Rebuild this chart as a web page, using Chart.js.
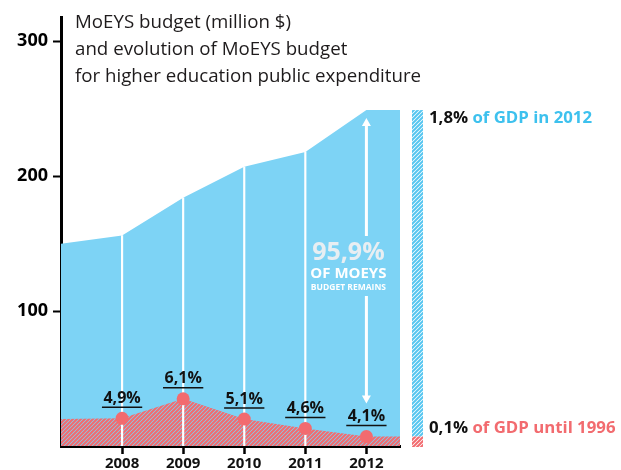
<!DOCTYPE html>
<html>
<head>
<meta charset="utf-8">
<script src="https://cdn.jsdelivr.net/npm/chart.js@4"></script>
<style>
html,body{margin:0;padding:0;background:#fff;}
#wrap{width:621px;height:470px;position:relative;}
</style>
</head>
<body>
<div id="wrap"><canvas id="c" width="621" height="470"></canvas></div>
<script>
// ---- data ----
const years = [2008, 2009, 2010, 2011, 2012];
const xStart = 2007;
const xEnd = 2012.55;
const budgetStart = 150;
const budget = [156, 184, 207, 218, 249];           // MoEYS budget (million $)
const heStart = 20;
const heBudget = [20.5, 35, 20, 13, 7];              // higher education part (as drawn)
const heEnd = 7;
const hePctLabels = ['4,9%', '6,1%', '5,1%', '4,6%', '4,1%'];
const yTicks = [100, 200, 300];
const titleLines = ['MoEYS budget (million $)', 'and evolution of MoEYS budget', 'for higher education public expenditure'];
const remainLabels = ['95,9%', 'OF MOEYS', 'BUDGET REMAINS'];
const gdpTop = ['1,8%', ' of GDP in 2012'];
const gdpBottom = ['0,1%', ' of GDP until 1996'];

// ---- styles ----
const BLUE = '#7DD3F5';
const BLUE_TXT = '#3DC1EE';
const RED = '#F26B6F';
const DARK = '#1e1b1c';
const FONT = '"Open Sans", "Noto Sans", sans-serif';

function stripes(bg, fg, size, lw) {
  const c = document.createElement('canvas');
  c.width = c.height = size;
  const x = c.getContext('2d');
  x.fillStyle = bg; x.fillRect(0, 0, size, size);
  x.strokeStyle = fg; x.lineWidth = lw;
  x.beginPath();
  x.moveTo(0, size); x.lineTo(size, 0);
  x.moveTo(-size, size); x.lineTo(size, -size);
  x.moveTo(0, 2 * size); x.lineTo(2 * size, 0);
  x.stroke();
  return x.createPattern(c, 'repeat');
}
const redHatch = stripes(BLUE, RED, 4, 2.1);
const blueHatch = stripes('#ffffff', '#55C6F0', 4, 2);
const redHatch2 = stripes('#ffffff', RED, 4, 2);

const budgetPts = [{x: xStart, y: budgetStart}].concat(years.map((y, i) => ({x: y, y: budget[i]}))).concat([{x: xEnd, y: budget[budget.length - 1]}]);
const hePts = [{x: xStart, y: heStart}].concat(years.map((y, i) => ({x: y, y: heBudget[i]}))).concat([{x: xEnd, y: heEnd}]);
const linePts = years.slice(0, 4).map((y, i) => ({x: y, y: budget[i]}));
const dotPts = years.map((y, i) => ({x: y, y: heBudget[i]}));

const overlay = {
  id: 'overlay',
  afterDatasetsDraw(chart) {
    const ctx = chart.ctx;
    const xs = chart.scales.x, ys = chart.scales.y;
    const ca = chart.chartArea;
    ctx.save();
    // title
    ctx.fillStyle = DARK;
    ctx.font = '18.7px ' + FONT;
    ctx.textAlign = 'left';
    ctx.textBaseline = 'alphabetic';
    titleLines.forEach((t, i) => ctx.fillText(t, ca.left + 14, 28 + i * 27));

    // percent labels above dots
    const meta = chart.getDatasetMeta(3);
    ctx.font = 'bold 16px ' + FONT;
    ctx.textAlign = 'center';
    ctx.textBaseline = 'middle';
    meta.data.forEach((pt, i) => {
      const w = ctx.measureText(hePctLabels[i]).width + 3;
      ctx.fillStyle = '#111';
      ctx.fillText(hePctLabels[i], pt.x, pt.y - 20);
      ctx.strokeStyle = '#111';
      ctx.lineWidth = 1.5;
      ctx.beginPath();
      ctx.moveTo(pt.x - w / 2, pt.y - 11);
      ctx.lineTo(pt.x + w / 2, pt.y - 11);
      ctx.stroke();
    });

    // arrow at last year
    const ax = xs.getPixelForValue(years[years.length - 1]);
    const topTip = ys.getPixelForValue(budget[budget.length - 1]) + 8;
    const botTip = ys.getPixelForValue(heBudget[heBudget.length - 1]) - 33;
    ctx.strokeStyle = '#fff';
    ctx.fillStyle = '#fff';
    ctx.lineWidth = 3;
    ctx.beginPath();
    ctx.moveTo(ax, topTip + 6); ctx.lineTo(ax, 236);
    ctx.moveTo(ax, 296); ctx.lineTo(ax, botTip - 6);
    ctx.stroke();
    ctx.beginPath();
    ctx.moveTo(ax, topTip); ctx.lineTo(ax - 4.5, topTip + 8); ctx.lineTo(ax + 4.5, topTip + 8); ctx.closePath();
    ctx.moveTo(ax, botTip); ctx.lineTo(ax - 4.5, botTip - 8); ctx.lineTo(ax + 4.5, botTip - 8); ctx.closePath();
    ctx.fill();

    // 95,9% text
    const cx = ax - 18;
    ctx.textAlign = 'center';
    ctx.textBaseline = 'alphabetic';
    ctx.fillStyle = '#E8EEF2';
    ctx.font = 'bold 25px ' + FONT;
    ctx.fillText(remainLabels[0], cx, 260);
    ctx.fillStyle = '#ffffff';
    ctx.font = 'bold 15px ' + FONT;
    ctx.fillText(remainLabels[1], cx, 278);
    ctx.font = 'bold 8.5px ' + FONT;
    ctx.fillText(remainLabels[2], cx, 289.5);

    // right stacked hatched bar
    const bx = ca.right + 12, bw = 11;
    const yTop = ys.getPixelForValue(budget[budget.length - 1]);
    const ySplit = ys.getPixelForValue(heEnd);
    const yBot = ys.getPixelForValue(0) + 1;
    ctx.fillStyle = blueHatch;
    ctx.fillRect(bx, yTop, bw, ySplit - yTop);
    ctx.fillStyle = redHatch2;
    ctx.fillRect(bx, ySplit, bw, yBot - ySplit);

    // right labels
    ctx.textAlign = 'left';
    ctx.font = 'bold 16.8px ' + FONT;
    let lx = bx + bw + 6;
    ctx.fillStyle = '#111';
    ctx.fillText(gdpTop[0], lx, yTop + 13);
    let w0 = ctx.measureText(gdpTop[0]).width;
    ctx.fillStyle = BLUE_TXT;
    ctx.fillText(gdpTop[1], lx + w0, yTop + 13);
    ctx.fillStyle = '#111';
    ctx.fillText(gdpBottom[0], lx, yBot - 14);
    w0 = ctx.measureText(gdpBottom[0]).width;
    ctx.fillStyle = RED;
    ctx.fillText(gdpBottom[1], lx + w0, yBot - 14);
    ctx.restore();
  }
};

new Chart(document.getElementById('c'), {
  type: 'line',
  data: {
    datasets: [
      {type: 'line', data: budgetPts, backgroundColor: BLUE, borderWidth: 0, pointRadius: 0, fill: 'origin', tension: 0, order: 10},
      {type: 'line', data: hePts, backgroundColor: redHatch, borderWidth: 0, pointRadius: 0, fill: 'origin', tension: 0, order: 8},
      {type: 'bar', data: linePts, backgroundColor: '#ffffff', barThickness: 1.5, borderWidth: 0, order: 6},
      {type: 'line', data: dotPts, showLine: false, pointRadius: 6.5, pointBackgroundColor: RED, pointBorderWidth: 0, order: 2}
    ]
  },
  options: {
    responsive: false,
    animation: false,
    events: [],
    layout: {padding: {left: 0, top: 17, right: 221, bottom: 0}},
    plugins: {legend: {display: false}, tooltip: {enabled: false}, title: {display: false}},
    scales: {
      x: {
        type: 'linear', min: xStart, max: xEnd, offset: false,
        afterBuildTicks: s => { s.ticks = years.map(v => ({value: v})); },
        afterFit: s => { s.height = 24; },
        grid: {display: true, drawOnChartArea: false, drawTicks: true, tickLength: 8, tickColor: '#000', tickWidth: 2.5, offset: false},
        border: {display: true, color: '#000', width: 3},
        ticks: {color: '#111', font: {family: FONT, weight: 'bold', size: 15}, padding: 1, maxRotation: 0, autoSkip: false, callback: v => String(v)}
      },
      y: {
        type: 'linear', min: 0, max: 318,
        afterBuildTicks: s => { s.ticks = yTicks.map(v => ({value: v})); },
        afterFit: s => { s.width = 61; },
        grid: {display: true, drawOnChartArea: false, drawTicks: true, tickLength: 8, tickColor: '#000', tickWidth: 2},
        border: {display: true, color: '#000', width: 3},
        ticks: {color: '#000', font: {family: FONT, weight: 'bold', size: 18}, padding: 5}
      }
    }
  },
  plugins: [overlay]
});
</script>
</body>
</html>
